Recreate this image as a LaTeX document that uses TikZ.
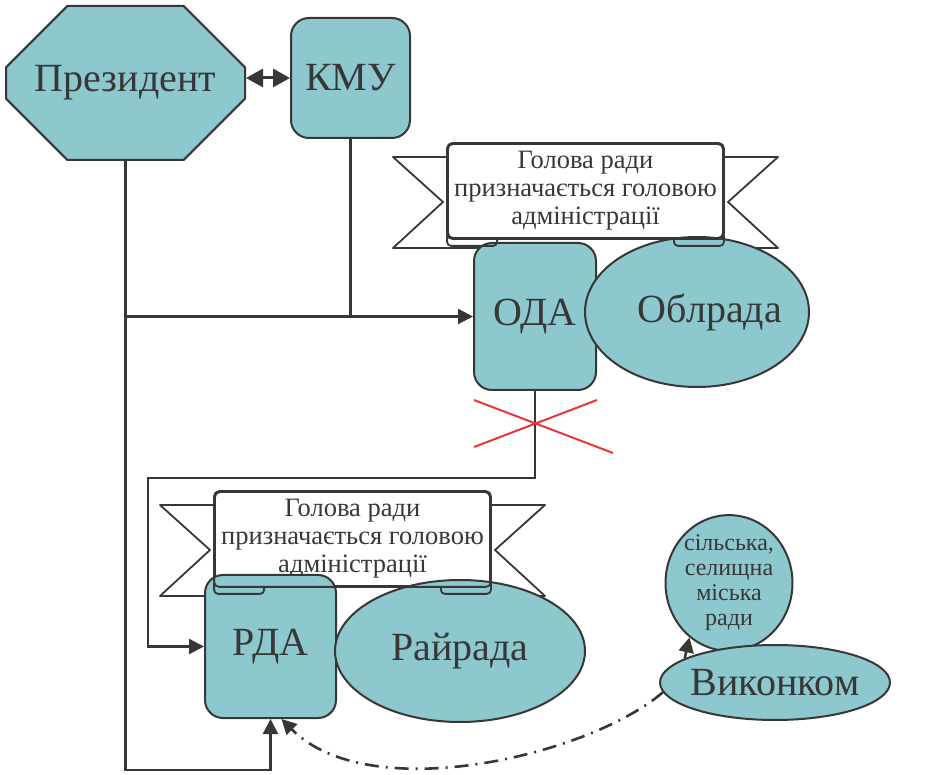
\documentclass[tikz,border=0pt]{standalone}
\usepackage{fontspec}
\setmainfont{Liberation Serif}
\usetikzlibrary{arrows.meta}
\usetikzlibrary{shapes.misc,shapes.geometric}
\usetikzlibrary{backgrounds}
\definecolor{boxfill}{RGB}{140,200,206}
\definecolor{ink}{RGB}{55,55,55}
\definecolor{crossred}{RGB}{232,52,60}

\begin{document}
\begin{tikzpicture}[x=1pt,y=-1pt]
  \tikzstyle{org node}=[draw=ink,fill=boxfill,line width=2pt,text=ink,inner sep=0pt,font=\fontsize{40}{46}\selectfont]
  \tikzstyle{box node}=[org node,rectangle,rounded corners=18pt]
  \tikzstyle{oval node}=[org node,ellipse]
  \tikzstyle{ribbon}=[draw=ink,fill=white,line width=1.8pt,line join=round]
  \tikzstyle{ribbon edge}=[draw=ink,line width=1.8pt,rounded corners=4pt]
  \tikzstyle{link}=[draw=ink,line width=2.2pt]
  \tikzstyle{tip}=[-{Triangle[length=15pt,width=15pt]}]

  \useasboundingbox (0,0) rectangle (938,775);
  \coordinate (low) at (0,770);
  \coordinate (mid) at (0,478);
  \coordinate (side) at (148,0);

  % banners: tails and body
  \foreach \bx/\by/\bn in {448/145/B1, 215/493/B2} {
    \draw[ribbon] (\bx+40,\by+12) -- (\bx-55,\by+12) -- (\bx-5,\by+57) -- (\bx-55,\by+103) -- (\bx+40,\by+103);
    \draw[ribbon] (\bx+235,\by+12) -- (\bx+330,\by+12) -- (\bx+280,\by+57) -- (\bx+330,\by+103) -- (\bx+235,\by+103);
    \node[ribbon,rounded corners=5pt,minimum width=275pt,minimum height=94pt,inner sep=0pt,
          align=center,text=ink,font=\fontsize{26.5}{28}\selectfont] (\bn) at (\bx+137.5,\by+46)
          {Голова ради\\призначається головою\\адміністрації};
  }

  % nodes
  \node[org node,chamfered rectangle,chamfered rectangle xsep=47pt,chamfered rectangle ysep=44pt,
        minimum width=239pt,minimum height=154pt] (PR) at (125.5,83) {Президент};
  \node[box node,minimum width=119pt,minimum height=120pt] (KMU) at (350.5,78) {КМУ};
  \node[box node,minimum width=122pt,minimum height=147pt] (ODA) at (535,316.5) {ОДА};
  \node[oval node,minimum width=224pt,minimum height=150pt] (OR) at (697,312)
    {\makebox[0pt]{\hspace*{26pt}Облрада}};
  \node[box node,minimum width=131pt,minimum height=143pt] (RDA) at (270.5,646.5) {РДА};
  \node[oval node,minimum width=250pt,minimum height=142pt] (RR) at (460,651) {Райрада};
  \node[oval node,minimum width=122pt,minimum height=130pt,align=center,
        font=\fontsize{24}{25}\selectfont] (SR) at (729,583) {сільська,\\селищна\\міська\\ради};
  \node[oval node,minimum width=230pt,minimum height=75pt] (VK) at (775,682.5)
    {\makebox[0pt]{Виконком}};

  % connectors, kept behind the nodes
  \begin{pgfonlayer}{background}
    \draw[link,tip] (PR.south) -- (PR.south |- low) -| (RDA.south);
    \draw[link,tip] (PR.south |- ODA.west) -- (ODA.west);
    \draw[link] (KMU.south) -- (KMU.south |- ODA.west);
    \draw[link,tip] (ODA.south) |- (side |- mid) |- (RDA.west);
  \end{pgfonlayer}

  % banner outlines and folds over the nodes
  \foreach \bn in {B1,B2} {
    \draw[ribbon edge,rounded corners=5pt] (\bn.north west) rectangle (\bn.south east);
    \draw[ribbon edge] ([shift={(0,-4)}]\bn.south west) -- ([shift={(0,7)}]\bn.south west)
      -- ([shift={(50,7)}]\bn.south west) -- ([shift={(50,0)}]\bn.south west);
    \draw[ribbon edge] ([shift={(0,-4)}]\bn.south east) -- ([shift={(0,7)}]\bn.south east)
      -- ([shift={(-50,7)}]\bn.south east) -- ([shift={(-50,0)}]\bn.south east);
  }

  \draw[link,line width=3pt,{Triangle[length=17pt,width=18pt]}-{Triangle[length=17pt,width=18pt]}]
    (KMU.west -| PR.east) -- (KMU.west);
  \draw[link,tip,line width=2.6pt] (VK.165) -- (SR.234);
  \draw[link,tip,line width=2.6pt,dash pattern=on 14pt off 7pt on 2pt off 7pt]
    (VK.185) .. controls (590,755) and (370,808) .. ([xshift=11pt]RDA.south);

  % crossed out link
  \draw[crossred,line width=2pt] (474,400) -- (613,453) (474,447) -- (597,400);
\end{tikzpicture}
\end{document}
